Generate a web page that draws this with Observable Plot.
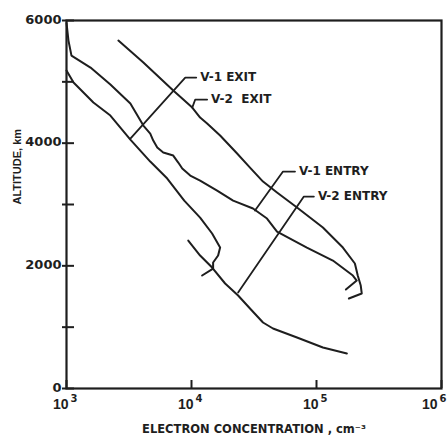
<!DOCTYPE html>
<html>
<head>
<meta charset="utf-8">
<script src="https://cdn.jsdelivr.net/npm/d3@7"></script>
<script src="https://cdn.jsdelivr.net/npm/@observablehq/plot@0.6"></script>
<style>
html, body { margin: 0; padding: 0; background: #fff; }
</style>
</head>
<body>
<div id="chart"></div>
<script>
// ---- data (electron concentration in cm^-3, altitude in km) ----
const v1EntryX = [1000, 1037, 1096, 1556, 2244, 3243, 4121, 4677, 4943, 5321, 5943, 7145, 7834, 8433, 9772, 11720, 16030, 21530, 31050, 40180, 48310, 83750, 135200, 195400, 209900, 171800];
const v1EntryY = [5960, 5672, 5428, 5232, 4955, 4646, 4287, 4157, 4042, 3928, 3847, 3798, 3684, 3586, 3472, 3390, 3227, 3064, 2934, 2771, 2559, 2298, 2086, 1842, 1760, 1614];

const v2ExitX = [2600, 4121, 7145, 10140, 11720, 13340, 16940, 23170, 29380, 37330, 48310, 69820, 112500, 162600, 202800, 213800, 225900, 230100, 181600];
const v2ExitY = [5672, 5314, 4857, 4580, 4417, 4320, 4124, 3831, 3602, 3374, 3195, 2950, 2624, 2298, 2038, 1842, 1679, 1549, 1467];

const v1ExitX = [1000, 1138, 1641, 2244, 3243, 4677, 6397, 8750, 11720, 14620, 16940, 16330, 14890, 14890, 12160];
const v1ExitY = [5183, 4988, 4662, 4450, 4059, 3700, 3423, 3064, 2787, 2527, 2298, 2168, 2054, 1956, 1842];

const v2EntryX = [9419, 11720, 14620, 18580, 23600, 29380, 37330, 44870, 69820, 112500, 175000];
const v2EntryY = [2412, 2168, 1972, 1712, 1516, 1304, 1076, 978, 831, 668, 571];

// curve labels with leader lines (tip on curve -> elbow -> end of horizontal stub)
const labelNames = ["V-1 EXIT", "V-2\u00a0\u00a0EXIT", "V-1 ENTRY", "V-2 ENTRY"];
const leaderTipX = [3243, 10140, 32210, 23600];
const leaderTipY = [4075, 4580, 2901, 1565];
const leaderElbowX = [8913, 10715, 53950, 79250];
const leaderElbowY = [5069, 4711, 3537, 3130];
const leaderEndX = [10914, 13335, 67300, 95280];

// axis ticks
const xTicks = [1e3, 1e4, 1e5, 1e6];
const yTicks = [0, 1000, 2000, 3000, 4000, 5000, 6000];
const yTickLabels = [0, 2000, 4000, 6000];
const xTitle = "ELECTRON CONCENTRATION , cm\u207B\u00B3";
const yTitle = "ALTITUDE, km";

// ---- build tables ----
const series = [
  {name: "V-1 ENTRY", x: v1EntryX, y: v1EntryY},
  {name: "V-2 EXIT", x: v2ExitX, y: v2ExitY},
  {name: "V-1 EXIT", x: v1ExitX, y: v1ExitY},
  {name: "V-2 ENTRY", x: v2EntryX, y: v2EntryY}
];
const rows = series.flatMap(s => s.x.map((x, i) => ({series: s.name, x, y: s.y[i]})));

const leaderRows = labelNames.flatMap((name, i) => [
  {label: name, x: leaderTipX[i], y: leaderTipY[i]},
  {label: name, x: leaderElbowX[i], y: leaderElbowY[i]},
  {label: name, x: leaderEndX[i], y: leaderElbowY[i]}
]);
const labelRows = labelNames.map((name, i) => ({label: name, x: leaderEndX[i], y: leaderElbowY[i]}));

// ---- layout ----
const W = 447, H = 438;
const mL = 66, mR = 6, mT = 20, mB = 50;
const plotW = W - mL - mR, plotH = H - mT - mB;
const ink = "#1e1e1e";
const numFont = "DejaVu Sans";
const lastTick = xTicks[xTicks.length - 1];
const expText = d => String(Math.round(Math.log10(d)));

const chart = Plot.plot({
  width: W,
  height: H,
  marginLeft: mL,
  marginRight: mR,
  marginTop: mT,
  marginBottom: mB,
  x: {type: "log", domain: [1e3, 1e6], axis: null},
  y: {domain: [0, 6000], axis: null},
  style: {background: "#fff", color: ink, fontFamily: numFont, overflow: "visible"},
  marks: [
    Plot.line(rows, {x: "x", y: "y", z: "series", stroke: ink, strokeWidth: 2, strokeLinejoin: "round", strokeLinecap: "round"}),
    Plot.line(leaderRows, {x: "x", y: "y", z: "label", stroke: ink, strokeWidth: 1.8}),
    Plot.text(labelRows, {x: "x", y: "y", text: "label", textAnchor: "start", dx: 4, fontSize: 12, fontWeight: "bold", fill: ink}),
    Plot.frame({stroke: ink, strokeWidth: 2.2}),
    Plot.tickY(yTicks, {y: d => d, insetLeft: -4, insetRight: plotW - 8, stroke: ink, strokeWidth: 2}),
    Plot.tickX(xTicks, {x: d => d, insetTop: plotH - 8, stroke: ink, strokeWidth: 2}),
    Plot.text(yTickLabels, {y: d => d, text: d => String(d), frameAnchor: "left", textAnchor: "end", dx: -5, dy: -1, fontSize: 13, fontWeight: "bold", fill: ink}),
    // x tick labels "10" with raised exponent
    Plot.text(xTicks, {filter: d => d !== lastTick, x: d => d, text: () => "10", frameAnchor: "bottom", textAnchor: "end", dx: 2, dy: 20, fontSize: 14, fontWeight: "bold", fontFamily: "Liberation Sans", fill: ink}),
    Plot.text(xTicks, {filter: d => d !== lastTick, x: d => d, text: expText, frameAnchor: "bottom", textAnchor: "start", dx: 4, dy: 13, fontSize: 10, fontWeight: "bold", fill: ink}),
    Plot.text(xTicks, {filter: d => d === lastTick, x: d => d, text: () => "10", frameAnchor: "bottom", textAnchor: "end", dx: -4, dy: 20, fontSize: 14, fontWeight: "bold", fontFamily: "Liberation Sans", fill: ink}),
    Plot.text(xTicks, {filter: d => d === lastTick, x: d => d, text: expText, frameAnchor: "bottom", textAnchor: "start", dx: -2, dy: 13, fontSize: 10, fontWeight: "bold", fill: ink}),
    Plot.text([xTitle], {text: d => d, frameAnchor: "bottom", dy: 44, fontSize: 11.5, fontWeight: "bold", fill: ink}),
    Plot.text([yTitle], {text: d => d, frameAnchor: "left", dx: -49, rotate: -90, fontSize: 11, fontWeight: "bold", fontFamily: "Liberation Sans", fill: ink})
  ]
});

document.getElementById("chart").appendChild(chart);
</script>
</body>
</html>
